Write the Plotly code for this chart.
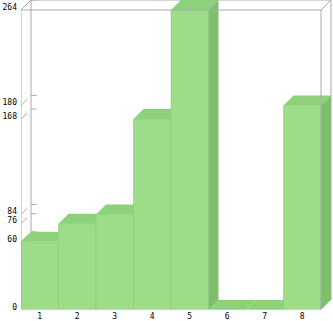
import plotly.graph_objects as go

categories = ["1", "2", "3", "4", "5", "6", "7", "8"]
values = [60, 76, 84, 168, 264, 0, 0, 180]
tick_values = [0, 60, 76, 84, 168, 180, 264]
tick_labels = ["0", "60", "76", "84", "168", "180", "264"]

W, H = 333, 321
LEFT_PX, BOTTOM_PX = 21, 11
YMAX = 264
PX_PER_X = 37.5
PX_PER_Y = 300 / 264
DEPTH_PX = 10
DX = DEPTH_PX / PX_PER_X
DY = DEPTH_PX / PX_PER_Y
x_lo = 0.5
x_hi = x_lo + (W - LEFT_PX) / PX_PER_X
y_hi = (H - BOTTOM_PX) / PX_PER_Y
n = len(categories)

FRONT = "#9ddc89"
TOP = "#8dd27a"
SIDE = "#7fbf6c"
EDGE = "#8ccb79"
FRAME = "#aaaaaa"

fig = go.Figure()

def poly(xs, ys, fill, line_color=None, width=0):
    fig.add_trace(go.Scatter(
        x=xs + [xs[0]], y=ys + [ys[0]], mode="lines", fill="toself",
        fillcolor=fill, line=dict(color=line_color or fill, width=width),
        hoverinfo="skip", showlegend=False))

def line(xs, ys, color=FRAME, width=1):
    fig.add_trace(go.Scatter(x=xs, y=ys, mode="lines",
                             line=dict(color=color, width=width),
                             hoverinfo="skip", showlegend=False))

L, R = 0.5, n + 0.5
# back frame
line([L + DX, L + DX, R + DX, R + DX], [DY, YMAX + DY, YMAX + DY, DY])
# back wall ticks and front slashes
for v in tick_values:
    line([L + DX, L + DX + 0.15], [v + DY, v + DY])
    line([L, L + DX * 0.6], [v, v + DY * 0.6])

# bars
for i, v in enumerate(values):
    x0, x1 = i + 0.5, i + 1.5
    poly([x0, x1, x1, x0], [0, 0, v, v], FRONT, EDGE, 0.6)
    poly([x0, x1, x1 + DX, x0 + DX], [v, v, v + DY, v + DY], TOP)
    poly([x1, x1 + DX, x1 + DX, x1], [0, DY, v + DY, v], SIDE)

# front frame
line([L, L, R, R], [0, YMAX, YMAX, 0])
line([L, L + DX], [YMAX, YMAX + DY])
line([R, R + DX], [YMAX, YMAX + DY])
line([L, R, R + DX], [0, 0, DY], color="#dddddd")

fig.update_layout(
    width=W, height=H, margin=dict(l=0, r=0, t=0, b=0, autoexpand=False),
    paper_bgcolor="white", plot_bgcolor="white",
    xaxis=dict(domain=[LEFT_PX / W, 1], range=[x_lo, x_hi], showgrid=False,
               zeroline=False, showline=False, tickvals=list(range(1, n + 1)),
               ticktext=categories, ticks="", ticklabelstandoff=0,
               automargin=False,
               tickfont=dict(family="DejaVu Sans Mono", size=8, color="black")),
    yaxis=dict(domain=[BOTTOM_PX / H, 1], range=[0, y_hi], showgrid=False,
               zeroline=False, showline=False, tickvals=tick_values,
               ticktext=tick_labels, ticks="", ticklabelstandoff=3,
               ticklabelshift=-3, automargin=False,
               tickfont=dict(family="DejaVu Sans Mono", size=8, color="black")),
)

fig.write_html("out.html")
